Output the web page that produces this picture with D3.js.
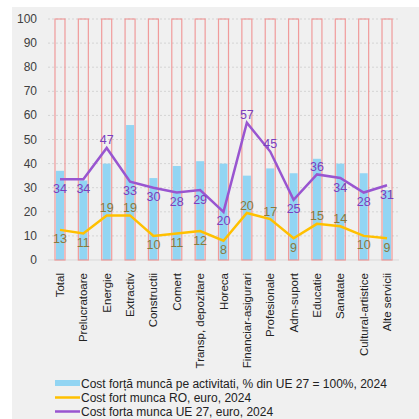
<!DOCTYPE html>
<html><head><meta charset="utf-8">
<script src="https://cdn.jsdelivr.net/npm/d3@7"></script>
<style>html,body{margin:0;padding:0;background:#fff;}svg{display:block;font-family:Arial,"Liberation Sans",sans-serif;}</style>
</head><body><svg id="c" width="419" height="419"></svg>
<script>
const categories = ["Total","Prelucratoare","Energie","Extractiv","Constructii","Comert","Transp, depozitare","Horeca","Financiar-asigurari","Profesionale","Adm-suport","Educatie","Sanatate","Cultural-artistice","Alte servicii"];
const pctUE = [37,33,40,56,34,39,41,40,35,38,36,42,40,36,29];
const refBar = [100,100,100,100,100,100,100,100,100,100,100,100,100,100,100];
const costRO = [12.5,11,18.5,18.5,10,11,12,8,19.5,17,9,15,14,10,9];
const costUE = [33.5,33.5,46.5,32.5,30,28,29,20,57,45,25,35.5,34,28,31];
const roLabels = [13,11,19,19,10,11,12,8,20,17,9,15,14,10,9];
const ueLabels = [34,34,47,33,30,28,29,20,57,45,25,36,34,28,31];
const roLabelPos = ["b","b","a","a","b","b","b","b","a","a","b","a","a","b","b"];
const ueLabelPos = ["b","b","a","b","b","b","b","b","a","a","b","a","b","b","b"];
const yTicks = [0,10,20,30,40,50,60,70,80,90,100];
const legendItems = ["Cost forță muncă pe activitati, % din UE 27 = 100%, 2024","Cost fort munca RO, euro, 2024","Cost forta munca UE 27, euro, 2024"];

const svg = d3.select("#c");
svg.append("rect").attr("x",12).attr("y",7).attr("width",407).attr("height",412).attr("fill","#f0f0f0");

const x = d3.scaleBand().domain(categories).range([48.3,398.7]).padding(0);
const y = d3.scaleLinear().domain([0,100]).range([260,19]);
const cx = d => x(d)+x.bandwidth()/2;

svg.append("g").selectAll("line").data(yTicks.filter(t=>t>0)).join("line")
  .attr("x1",48).attr("x2",399).attr("y1",d=>y(d)).attr("y2",d=>y(d))
  .attr("stroke","#d4d4d4").attr("stroke-width",1).attr("stroke-dasharray","2,2");
svg.append("line").attr("x1",48).attr("x2",399).attr("y1",y(0)).attr("y2",y(0)).attr("stroke","#d9d9d9");

svg.append("g").selectAll("text").data(yTicks).join("text")
  .attr("x",37).attr("y",d=>y(d)+4).attr("text-anchor","end")
  .attr("font-size",12).attr("fill","#404040").text(d=>d);

const bw = 10, bw2 = 8;
svg.append("g").selectAll("rect").data(pctUE).join("rect")
  .attr("x",(d,i)=>cx(categories[i])-bw2/2).attr("width",bw2)
  .attr("y",d=>y(d)).attr("height",d=>y(0)-y(d)).attr("fill","#92d5f3");
svg.append("g").selectAll("rect").data(refBar).join("rect")
  .attr("x",(d,i)=>cx(categories[i])-bw/2).attr("width",bw)
  .attr("y",d=>y(d)).attr("height",d=>y(0)-y(d)).attr("fill","none")
  .attr("stroke","#f08c8c").attr("stroke-width",1.2).attr("stroke-opacity",0.85);

const line = d3.line().x((d,i)=>cx(categories[i])).y(d=>y(d));
svg.append("path").datum(costRO).attr("d",line).attr("fill","none").attr("stroke","#ffc000").attr("stroke-width",2.5);
svg.append("path").datum(costUE).attr("d",line).attr("fill","none").attr("stroke","#9955d0").attr("stroke-width",2.5);

function labels(data,txt,pos,color){
  svg.append("g").selectAll("text").data(data).join("text")
    .attr("x",(d,i)=>cx(categories[i])).attr("y",(d,i)=>pos[i]==="a"? y(d)-3.5 : y(d)+13.5)
    .attr("text-anchor","middle").attr("font-size",12.5).attr("fill",color).text((d,i)=>txt[i]);
}
labels(costRO,roLabels,roLabelPos,"#8a7a3c");
labels(costUE,ueLabels,ueLabelPos,"#7a3fbf");

svg.append("g").selectAll("text").data(categories).join("text")
  .attr("transform",d=>`translate(${cx(d)+4},273) rotate(-90)`)
  .attr("text-anchor","end").attr("font-size",11.5).attr("fill","#222").text(d=>d);

const lg = svg.append("g");
lg.append("rect").attr("x",55).attr("y",380).attr("width",25).attr("height",6).attr("fill","#92d5f3");
lg.append("line").attr("x1",55).attr("x2",80).attr("y1",397.5).attr("y2",397.5).attr("stroke","#ffc000").attr("stroke-width",2.5);
lg.append("line").attr("x1",55).attr("x2",80).attr("y1",411.5).attr("y2",411.5).attr("stroke","#9955d0").attr("stroke-width",2.5);
lg.selectAll("text").data(legendItems).join("text")
  .attr("x",81).attr("y",(d,i)=>387.5+i*14).attr("font-size",12).attr("fill","#222").text(d=>d);
</script></body></html>
